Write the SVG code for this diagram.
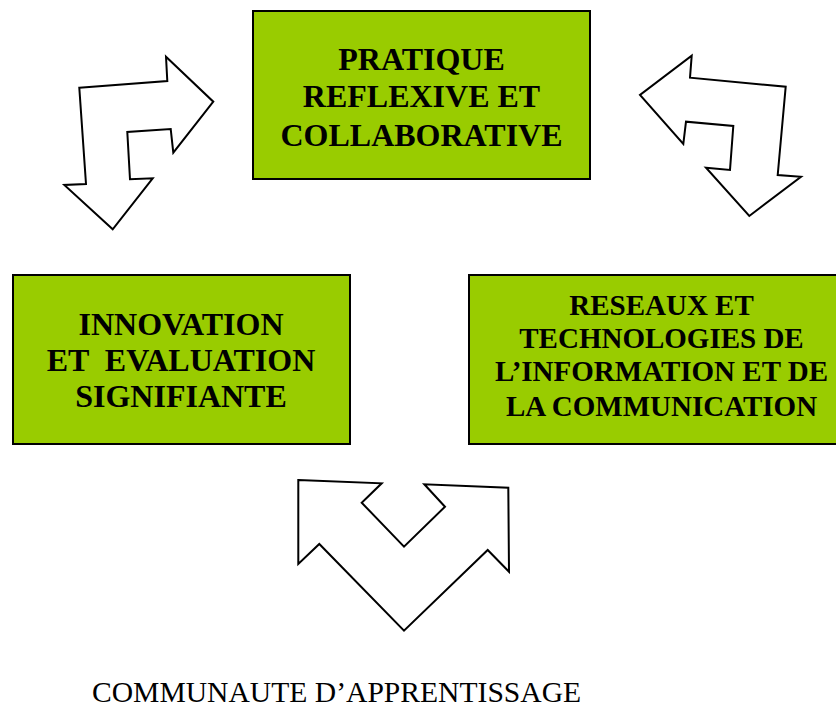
<svg xmlns="http://www.w3.org/2000/svg" width="836" height="709" viewBox="0 0 836 709">
<style>
.box{fill:#99cc00;stroke:#000;stroke-width:2}
.t{font-family:"Liberation Serif","Times New Roman",serif;font-weight:bold;fill:#000;text-anchor:middle}
.arr{fill:#fff;stroke:#000;stroke-width:2;stroke-linejoin:miter}
.cap{font-family:"Liberation Serif","Times New Roman",serif;font-size:29.6px;fill:#000}
</style>
<rect width="836" height="709" fill="#fff"/>
<g id="node-pratique">
<rect class="box" x="253" y="11" width="337" height="168"/>
<text class="t" font-size="32" x="421.5"><tspan x="421.5" y="70">PRATIQUE</tspan><tspan x="421.5" y="107">REFLEXIVE ET</tspan><tspan x="421.5" y="145.5">COLLABORATIVE</tspan></text>
</g>
<g id="node-innovation">
<rect class="box" x="13" y="275" width="337" height="169"/>
<text class="t" font-size="32" xml:space="preserve"><tspan x="181" y="335">INNOVATION</tspan><tspan x="181" y="371">ET  EVALUATION</tspan><tspan x="181" y="407">SIGNIFIANTE</tspan></text>
</g>
<g id="node-reseaux">
<rect class="box" x="469" y="275" width="385" height="169"/>
<text class="t" font-size="29"><tspan x="661.5" y="314.5">RESEAUX ET</tspan><tspan x="661.5" y="348">TECHNOLOGIES DE</tspan><tspan x="661.5" y="381">L’INFORMATION ET DE</tspan><tspan x="661.5" y="415.5">LA COMMUNICATION</tspan></text>
</g>
<g id="connectors">
<polygon class="arr" points="79.3,87.7 167.3,81 166,56.7 213.3,101.7 173.3,152.7 170.7,129 127.3,132 130,179.3 152.7,178.3 112.7,229.3 64.3,185 86,184"/>
<polygon class="arr" points="690,77.7 691.7,55.7 640,95 683.3,144 686,121.7 733.3,126 730,170 706,167.7 749.3,216 801,176.7 777.7,175 785.7,86.7"/>
<polygon class="arr" points="298.3,480 381.7,483.3 361.7,502.7 404,546.7 445,506.7 424.3,484.3 508.3,487.7 509,571.7 487.7,550 404,630.7 319.3,544 298.3,564"/>
</g>
<g id="label-communaute">
<text class="cap" x="92" y="702">COMMUNAUTE D’APPRENTISSAGE</text>
</g>
</svg>
